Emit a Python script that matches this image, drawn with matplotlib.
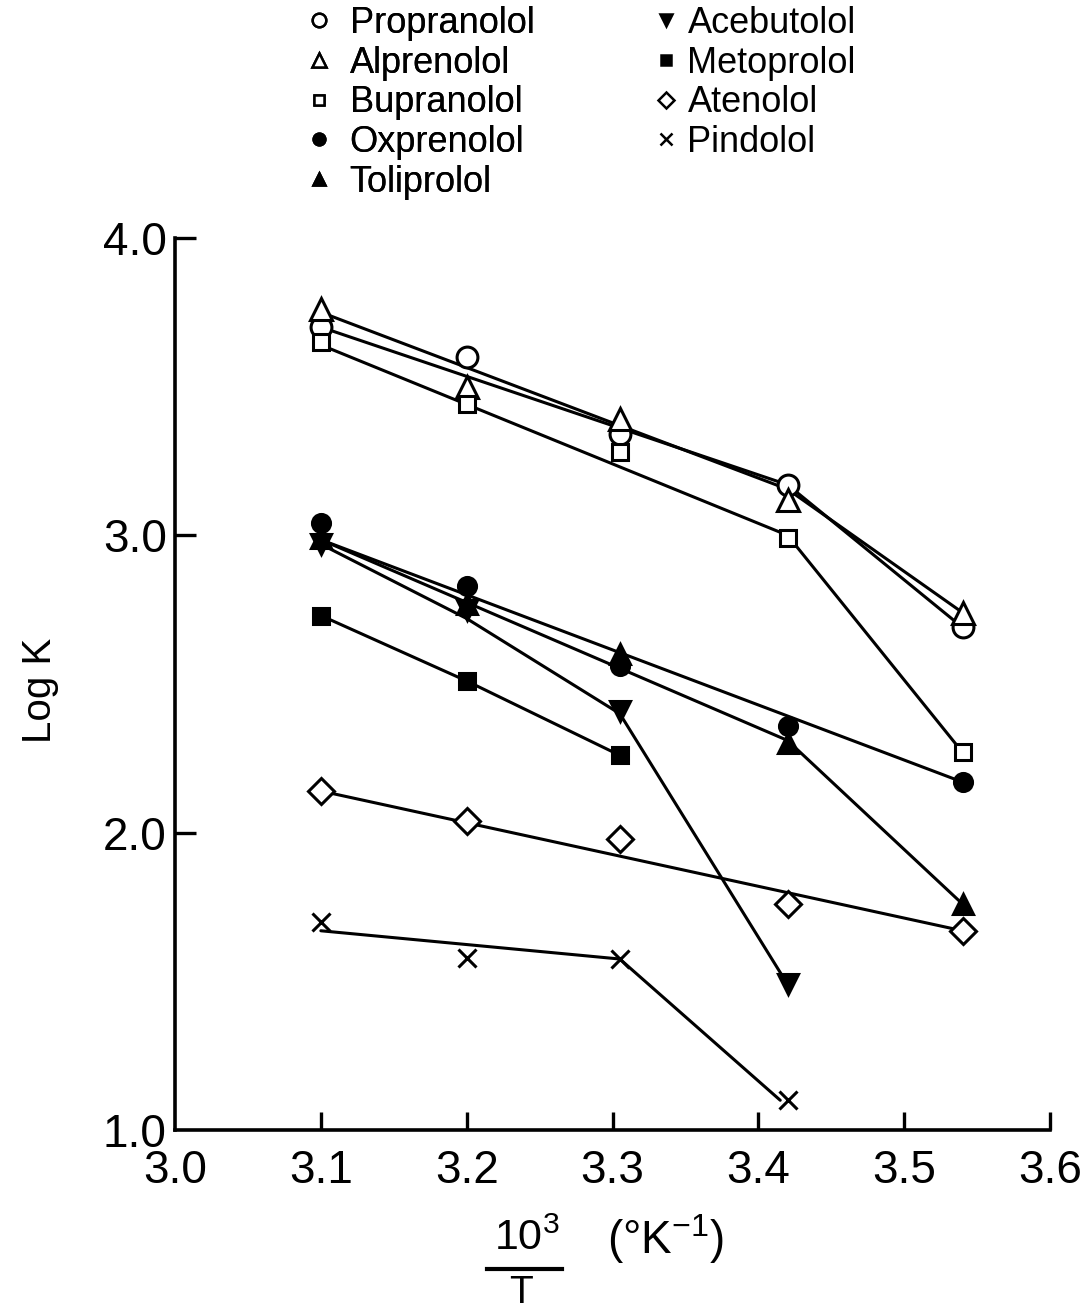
import numpy as np
import matplotlib.pyplot as plt
from matplotlib.lines import Line2D

plt.rcParams["font.family"] = ["Liberation Sans", "DejaVu Sans"]
plt.rcParams["mathtext.fontset"] = "custom"
plt.rcParams["mathtext.rm"] = "Liberation Sans"

# 10^3/T values of the five temperatures
x_temp = [3.10, 3.20, 3.305, 3.42, 3.54]

# measured points (log K)
propranolol_y = [3.70, 3.60, 3.34, 3.17, 2.69]
alprenolol_y = [3.76, 3.50, 3.39, 3.12, 2.74]
bupranolol_y = [3.65, 3.44, 3.28, 2.99, 2.27]
oxprenolol_y = [3.04, 2.83, 2.56, 2.36, 2.17]
toliprolol_y = [2.99, 2.77, 2.60, 2.30, 1.76]
acebutolol_y = [2.97, 2.75, 2.41, 1.49]
metoprolol_y = [2.73, 2.51, 2.26]
atenolol_y = [2.14, 2.04, 1.98, 1.76, 1.67]
pindolol_y = [1.70, 1.58, 1.575, 1.10]

# drawn lines (as traced on the original plot)
propranolol_lx, propranolol_ly = [3.10, 3.42, 3.54], [3.70, 3.17, 2.69]
alprenolol_lx, alprenolol_ly = [3.10, 3.42, 3.54], [3.75, 3.155, 2.74]
bupranolol_lx, bupranolol_ly = [3.10, 3.42, 3.54], [3.64, 3.00, 2.27]
oxprenolol_lx, oxprenolol_ly = [3.10, 3.54], [2.985, 2.17]
toliprolol_lx, toliprolol_ly = [3.10, 3.42, 3.54], [2.985, 2.31, 1.76]
acebutolol_lx, acebutolol_ly = [3.10, 3.20, 3.305, 3.42], [2.97, 2.72, 2.40, 1.49]
metoprolol_lx, metoprolol_ly = [3.10, 3.20, 3.305], [2.73, 2.51, 2.26]
atenolol_lx, atenolol_ly = [3.10, 3.54], [2.14, 1.67]
pindolol_lx, pindolol_ly = [3.10, 3.305, 3.415], [1.67, 1.575, 1.10]

names = ["Propranolol", "Alprenolol", "Bupranolol", "Oxprenolol", "Toliprolol",
         "Acebutolol", "Metoprolol", "Atenolol", "Pindolol"]
markers = ["o", "^", "s", "o", "^", "v", "s", "D", "x"]
filled = [False, False, False, True, True, True, True, False, True]
msizes = [15, 16, 12, 13, 14, 14, 12, 13, 13]

series_y = [propranolol_y, alprenolol_y, bupranolol_y, oxprenolol_y, toliprolol_y,
            acebutolol_y, metoprolol_y, atenolol_y, pindolol_y]
lines = [(propranolol_lx, propranolol_ly), (alprenolol_lx, alprenolol_ly),
         (bupranolol_lx, bupranolol_ly), (oxprenolol_lx, oxprenolol_ly),
         (toliprolol_lx, toliprolol_ly), (acebutolol_lx, acebutolol_ly),
         (metoprolol_lx, metoprolol_ly), (atenolol_lx, atenolol_ly),
         (pindolol_lx, pindolol_ly)]

fig = plt.figure(figsize=(10.87, 13.10), dpi=100)
ax = fig.add_axes([0.161, 0.1374, 0.805, 0.681])

for (lx, ly) in lines:
    ax.plot(lx, ly, color="black", lw=2.2, zorder=2, solid_capstyle="round")

for ys, m, f, ms in zip(series_y, markers, filled, msizes):
    ax.plot(x_temp[:len(ys)], ys, linestyle="none", marker=m, ms=ms,
            mfc="black" if f else "white", mec="black", mew=2.2,
            zorder=3, clip_on=False)

ax.set_xlim(3.0, 3.6)
ax.set_ylim(1.0, 4.0)
for s in ["top", "right"]:
    ax.spines[s].set_visible(False)
for s in ["left", "bottom"]:
    ax.spines[s].set_linewidth(2.6)

ax.set_xticks([3.0, 3.1, 3.2, 3.3, 3.4, 3.5, 3.6])
ax.set_xticklabels(["3.0", "3.1", "3.2", "3.3", "3.4", "3.5", "3.6"])
ax.set_yticks([1.0, 2.0, 3.0, 4.0])
ax.set_yticklabels(["1.0", "2.0", "3.0", "4.0"])
ax.tick_params(axis="x", direction="in", length=13, width=2.4, labelsize=33, pad=14)
ax.tick_params(axis="y", direction="in", length=15, width=2.4, labelsize=33, pad=6)
ax.xaxis.get_major_ticks()[0].tick1line.set_visible(False)
ax.yaxis.get_major_ticks()[0].tick1line.set_visible(False)

fig.text(0.037, 0.473, "Log K", rotation=90, ha="center", va="center", fontsize=29)

# x axis label: 10^3 / T (°K^-1)
fig.text(0.485, 0.054, r"$\mathrm{10^3}$", ha="center", va="center", fontsize=31)
fig.text(0.612, 0.054, r"(°K$^{\mathrm{-1}}$)", ha="center", va="center", fontsize=33)
fig.add_artist(Line2D([0.448, 0.517], [0.031, 0.031], transform=fig.transFigure,
                      color="black", lw=3))
fig.text(0.479, 0.013, "T", ha="center", va="center", fontsize=28)

handles = [Line2D([], [], linestyle="none", marker=m, ms=ms * 0.65,
                  mfc="black" if f else "white", mec="black", mew=1.8)
           for m, f, ms in zip(markers, filled, msizes)]

leg1 = fig.legend(handles[:5], names[:5], loc="upper left",
                  bbox_to_anchor=(308 / 1087, 1 - 6 / 1310), frameon=False,
                  fontsize=26, handlelength=0.6, handletextpad=0.55,
                  labelspacing=0.13, borderpad=0, borderaxespad=0)
fig.add_artist(leg1)
fig.legend(handles[5:], names[5:], loc="upper left",
           bbox_to_anchor=(655 / 1087, 1 - 6 / 1310), frameon=False,
           fontsize=26, handlelength=0.6, handletextpad=0.3,
           labelspacing=0.13, borderpad=0, borderaxespad=0)

fig.savefig("out.png", dpi=100, facecolor="white")
